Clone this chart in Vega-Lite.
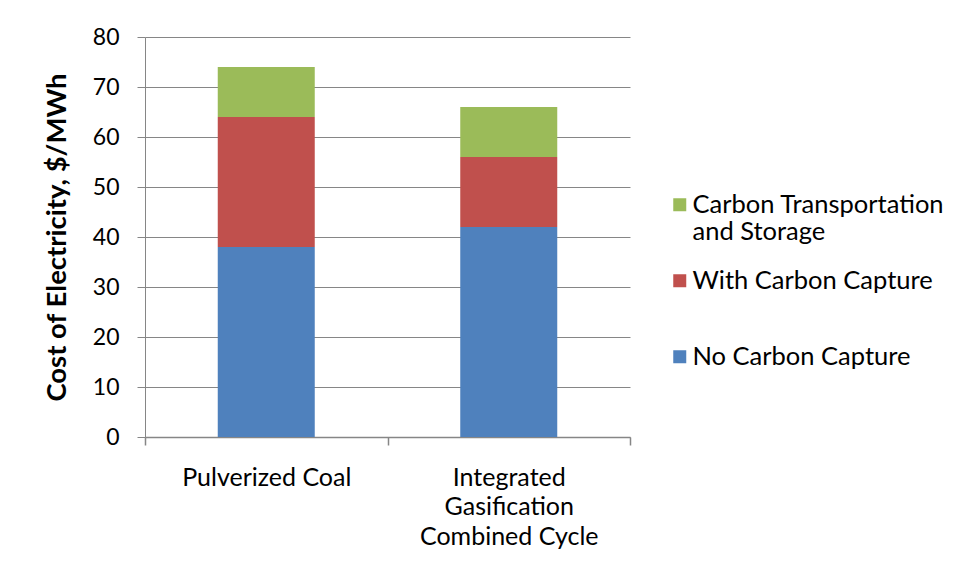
{
  "$schema": "https://vega.github.io/schema/vega-lite/v6.json",
  "width": 485,
  "height": 400,
  "autosize": {"type": "none"},
  "padding": {"left": 145, "top": 37, "right": 331, "bottom": 143},
  "background": "white",
  "config": {
    "font": "Lato",
    "view": {"stroke": null},
    "axis": {"domainColor": "#868686", "tickColor": "#868686", "gridColor": "#868686", "labelColor": "#000000", "titleColor": "#000000"}
  },
  "data": {
    "values": [
      {"technology": "Pulverized Coal", "component": "No Carbon Capture", "cost": 38, "layer": 1},
      {"technology": "Pulverized Coal", "component": "With Carbon Capture", "cost": 26, "layer": 2},
      {"technology": "Pulverized Coal", "component": "Carbon Transportation and Storage", "cost": 10, "layer": 3},
      {"technology": "Integrated Gasification Combined Cycle", "component": "No Carbon Capture", "cost": 42, "layer": 1},
      {"technology": "Integrated Gasification Combined Cycle", "component": "With Carbon Capture", "cost": 14, "layer": 2},
      {"technology": "Integrated Gasification Combined Cycle", "component": "Carbon Transportation and Storage", "cost": 10, "layer": 3}
    ]
  },
  "mark": {"type": "bar", "width": {"band": 0.4}},
  "encoding": {
    "x": {
      "field": "technology",
      "type": "nominal",
      "sort": null,
      "scale": {"paddingInner": 0, "paddingOuter": 0},
      "axis": {
        "title": null,
        "labelAngle": 0,
        "labelFontSize": 25,
        "labelBaseline": "top",
        "labelPadding": 20,
        "labelLineHeight": 29.5,
        "labelLimit": 300,
        "labelExpr": "datum.value == 'Integrated Gasification Combined Cycle' ? ['Integrated', 'Gasification', 'Combined Cycle'] : datum.label",
        "tickBand": "extent",
        "tickSize": 8,
        "tickWidth": 1.5,
        "domainWidth": 1.5,
        "grid": false
      }
    },
    "y": {
      "field": "cost",
      "type": "quantitative",
      "stack": "zero",
      "scale": {"domain": [0, 80], "nice": false},
      "axis": {
        "title": "Cost of Electricity, $/MWh",
        "titleFontSize": 27.5,
        "titleFontWeight": "bold",
        "titlePadding": 21,
        "values": [0, 10, 20, 30, 40, 50, 60, 70, 80],
        "labelFontSize": 23,
        "labelPadding": 18,
        "tickSize": 8,
        "grid": true
      }
    },
    "color": {
      "field": "component",
      "type": "nominal",
      "scale": {
        "domain": ["Carbon Transportation and Storage", "With Carbon Capture", "No Carbon Capture"],
        "range": ["#9BBB59", "#C0504D", "#4F81BD"]
      },
      "legend": {
        "title": null,
        "orient": "none",
        "legendX": 522,
        "legendY": 155,
        "padding": 0,
        "symbolType": "square",
        "symbolSize": 169,
        "symbolStrokeWidth": 0,
        "labelFontSize": 25.5,
        "labelOffset": 0,
        "labelLimit": 300,
        "labelLineHeight": 30,
        "rowPadding": 22,
        "labelExpr": "datum.value == 'Carbon Transportation and Storage' ? ['Carbon Transportation', 'and Storage'] : [datum.label, '']"
      }
    },
    "order": {"field": "layer"}
  }
}
